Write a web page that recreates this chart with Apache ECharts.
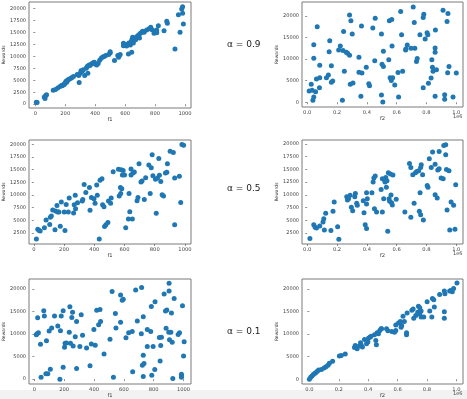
<!DOCTYPE html>
<html>
<head>
<meta charset="utf-8">
<script src="https://cdn.jsdelivr.net/npm/echarts@6/dist/echarts.min.js"></script>
<style>
html, body { margin: 0; padding: 0; background: #fff; }
#main { width: 467px; height: 399px; }
</style>
</head>
<body>
<div id="main"></div>
<script>
// alpha = 0.9, rewards vs f1
var f1Alpha09 = [
  [7,420],[12,350],[60,1500],[65,1200],[70,1800],[75,2000],
  [120,2900],[135,3100],[150,3400],[165,3700],[175,3900],[180,3850],[185,4000],[190,4100],[195,4200],
  [200,4500],[205,4800],[210,4600],[215,5000],[220,5100],[225,5200],[235,5400],[245,5600],[255,5800],
  [280,6200],[290,6000],[293,4530],[300,6500],[305,7000],[310,6800],[315,7000],[320,7200],[330,6000],
  [340,7500],[345,7800],[350,8000],[351,6480],[360,8200],[365,8100],[370,8300],[380,8500],[385,8600],
  [390,8700],[395,8800],[400,8400],[410,8200],[420,8500],[430,9200],[440,9600],[450,9900],[460,10000],
  [470,10200],[490,10400],[500,11000],[500,10700],
  [529,9130],[551,10170],[556,9830],[560,10100],[567,10380],
  [589,12750],[589,12260],[610,12500],[610,12200],[622,10520],[625,12800],[635,12400],[640,13000],
  [644,10870],[645,13500],[650,14000],[655,12800],[660,13800],[670,13500],[675,14000],[680,14200],
  [685,14300],[690,14500],[696,13870],[700,14800],[710,15000],[715,15200],[720,15300],[727,15050],
  [744,15540],[760,15800],[771,16100],[780,15600],[793,14840],[802,15260],[811,15540],[811,14980],
  [822,16440],[860,15400],[878,17350],[882,16930],
  [933,11570],[956,18750],[967,15050],[978,19930],[984,20420],[984,19020],[989,16790]
];

// alpha = 0.9, rewards vs f2 (x in units of 1e6)
var f2Alpha09 = [
  [0.013,2600],[0.027,4140],[0.033,2760],[0.038,460],[0.044,1230],[0.044,10200],[0.044,13300],
  [0.056,2450],[0.062,5360],[0.067,17500],[0.082,3370],[0.084,5670],[0.084,8580],[0.129,5670],
  [0.142,6280],[0.147,11700],[0.151,14250],[0.162,8430],[0.162,4600],[0.171,4900],[0.211,12100],
  [0.222,13000],[0.236,460],[0.240,11950],[0.244,16400],[0.249,7200],[0.262,11570],[0.271,11340],
  [0.284,20200],[0.284,10880],[0.289,4140],[0.293,18850],[0.302,15800],[0.307,4440],[0.347,10420],
  [0.347,6970],[0.360,1380],[0.367,6740],[0.364,17620],[0.396,8120],[0.413,4290],[0.418,3830],
  [0.440,17160],[0.453,9580],[0.456,19460],[0.498,15800],[0.498,1690],[0.502,8810],[0.507,80],
  [0.511,11800],[0.511,8280],[0.547,9810],[0.551,18850],[0.556,5670],[0.567,19160],[0.569,13030],
  [0.564,5060],[0.573,5670],[0.587,3980],[0.609,6900],[0.613,1230],[0.627,21000],[0.633,15630],
  [0.640,7200],[0.660,12100],[0.662,12340],[0.671,13260],[0.696,12490],[0.711,22070],[0.722,12490],
  [0.718,18470],[0.733,9430],[0.738,10110],[0.756,15630],[0.778,3370],[0.778,19620],[0.782,20380],
  [0.791,14640],[0.804,16090],[0.809,15630],[0.813,4370],[0.831,5590],[0.836,9810],[0.840,8120],
  [0.844,7200],[0.858,12570],[0.858,11570],[0.860,16700],[0.858,1380],[0.867,7510],[0.911,21300],
  [0.922,690],[0.922,1760],[0.938,18700],[0.944,20540],[0.942,6820],[0.951,8280],[0.978,1230],
  [1.000,6740]
];

// alpha = 0.5, rewards vs f1
var f1Alpha05 = [
  [17,1330],[26,3280],[35,3020],[42,2890],[70,3540],[81,5100],[105,4190],[109,5620],[116,5880],
  [125,7050],[140,3150],[144,6860],[153,7960],[158,6660],[166,6660],[175,3870],[182,8620],[201,6660],
  [206,3020],[214,8160],[228,6660],[234,9400],[263,6470],[267,8100],[274,9980],[276,7310],[289,8490],
  [320,8810],[324,9140],[333,12060],[344,10500],[368,11480],[372,6990],[381,9530],[398,9270],
  [405,8360],[416,12000],[420,9980],[433,1330],[438,12910],[451,13230],[455,8100],[464,7700],
  [468,3800],[477,4130],[490,4580],[494,8810],[508,8360],[512,9400],[525,14600],[560,15060],
  [565,9790],[573,11480],[575,10310],[578,14990],[582,11220],[586,13950],[591,14860],[600,13950],
  [608,3540],[626,5300],[630,10310],[635,6730],[643,15120],[643,13950],[652,5300],[656,14340],
  [665,14530],[683,8880],[689,9530],[696,16160],[709,12580],[716,12780],[731,9140],[740,13430],
  [761,15900],[770,10310],[777,15380],[783,17920],[788,13820],[805,13100],[810,6400],[818,13360],
  [831,13880],[827,17200],[840,12650],[849,10050],[858,9790],[871,14340],[880,14470],[884,16160],
  [902,18630],[923,18370],[932,13360],[932,4130],[963,13690],[972,8550],[980,19940],[991,19800]
];

// alpha = 0.5, rewards vs f2
var f2Alpha05 = [
  [0.018,1390],[0.044,4130],[0.053,3610],[0.062,3480],[0.084,3870],[0.106,4650],[0.111,5310],
  [0.115,3090],[0.124,6350],[0.159,2960],[0.173,6740],[0.181,8570],[0.204,3740],[0.212,1260],
  [0.265,9620],[0.270,8960],[0.277,9230],[0.288,9880],[0.296,7530],[0.305,6870],[0.319,9620],
  [0.323,10270],[0.332,8310],[0.336,7920],[0.376,8830],[0.381,6480],[0.389,4130],[0.398,3350],
  [0.398,10400],[0.398,8180],[0.403,9230],[0.434,10400],[0.442,12490],[0.447,13270],[0.456,13670],
  [0.451,7270],[0.465,6610],[0.496,11050],[0.504,13140],[0.504,6610],[0.513,9230],[0.518,12880],
  [0.522,12490],[0.527,13400],[0.531,11450],[0.535,12750],[0.540,2830],[0.544,14320],[0.549,9230],
  [0.553,8700],[0.558,14060],[0.562,9940],[0.566,8440],[0.571,7980],[0.575,13860],[0.597,9100],
  [0.655,6610],[0.686,16150],[0.695,5570],[0.695,15360],[0.708,13930],[0.717,8310],[0.726,14320],
  [0.735,14580],[0.748,14710],[0.752,6740],[0.757,10400],[0.761,6090],[0.761,15360],[0.765,15890],
  [0.774,13930],[0.779,5050],[0.805,11840],[0.810,11450],[0.819,17060],[0.832,15360],[0.841,18370],
  [0.858,15990],[0.858,10010],[0.872,9360],[0.876,14840],[0.885,15100],[0.885,18500],[0.898,13270],
  [0.912,13140],[0.916,19670],[0.929,19800],[0.929,17850],[0.934,14970],[0.938,7010],[0.951,14710],
  [0.956,3090],[0.965,8570],[0.982,7920],[0.991,3220],[0.996,11970]
];

// alpha = 0.1, rewards vs f1
var f1Alpha01 = [
  [13,9850],[18,10070],[22,13600],[27,10290],[41,7720],[45,440],[63,15150],[67,13970],[77,1180],
  [81,8530],[90,1180],[99,10660],[107,2210],[116,11320],[135,13970],[157,11760],[171,0],[175,10740],
  [180,13970],[193,15150],[193,2650],[202,7060],[206,7940],[215,8010],[238,16030],[234,10370],
  [242,7940],[251,13680],[256,14850],[260,7350],[274,9410],[283,2350],[283,12790],[305,7210],
  [314,14260],[323,9710],[350,6910],[373,2940],[382,7790],[399,11030],[408,7500],[418,15290],
  [431,12060],[440,15440],[444,12790],[467,5590],[507,8820],[521,19410],[530,440],[543,14560],
  [547,11320],[578,18680],[589,17510],[596,17730],[578,12600],[679,19780],[719,20290],[903,21250],
  [870,18900],[903,19560],[937,17870],[993,16260],[809,17140],[784,16120],[888,15310],[879,15090],
  [919,14650],[730,13850],[690,12890],[757,10990],[780,10550],[632,10260],[656,10550],[717,10040],
  [883,11280],[901,10400],[915,10400],[973,10260],[964,9890],[838,9230],[852,9300],[906,8720],
  [924,8200],[614,9160],[1004,8280],[757,7250],[796,7250],[847,7470],[730,5280],[1000,5130],
  [735,3440],[724,3080],[843,4030],[807,2120],[659,1610],[787,880],[730,590],[928,150],
  [986,1100],[986,730],[986,440]
];

// alpha = 0.1, rewards vs f2
var f2Alpha01 = [
  [0.000,0],[0.009,440],[0.018,730],[0.027,1030],[0.036,1250],[0.045,1460],[0.054,1760],[0.063,2050],
  [0.082,2120],[0.100,2490],[0.113,2780],[0.127,3080],[0.136,3520],[0.158,3950],[0.204,5130],
  [0.217,5270],[0.244,5570],[0.307,7030],[0.312,7470],[0.325,6740],[0.339,7330],[0.348,8060],
  [0.352,7620],[0.361,7100],[0.375,8790],[0.389,7840],[0.398,8210],[0.402,9080],[0.411,9300],
  [0.420,9520],[0.456,7620],[0.452,8570],[0.443,9820],[0.461,10260],[0.470,10040],[0.479,10770],
  [0.488,11140],[0.491,11140],[0.525,11140],[0.534,10700],[0.561,10550],[0.588,10770],[0.579,10400],
  [0.588,12010],[0.606,12450],[0.619,12750],[0.624,11500],[0.628,11870],[0.646,12750],[0.637,13920],
  [0.661,10260],[0.661,9820],[0.665,14650],[0.697,15240],[0.706,15530],[0.710,13480],[0.724,14070],
  [0.742,16120],[0.751,15820],[0.737,14800],[0.751,14430],[0.760,15090],[0.760,13770],[0.778,13770],
  [0.801,17140],[0.819,15090],[0.837,17870],[0.846,17580],[0.850,15970],[0.833,13770],[0.886,18750],
  [0.918,19490],[0.922,18900],[0.918,14940],[0.918,13480],[0.954,19490],[0.963,19630],[0.972,19340],
  [0.981,20070],[1.004,21250]
];

var f1Ticks = [0, 200, 400, 600, 800, 1000];
var f2Ticks = [0, 0.2, 0.4, 0.6, 0.8, 1.0];
var rewardTicks2500 = [0, 2500, 5000, 7500, 10000, 12500, 15000, 17500, 20000];
var rewardTicks5000 = [0, 5000, 10000, 15000, 20000];
var rewardTicksMid = [2500, 5000, 7500, 10000, 12500, 15000, 17500, 20000];
var alphaLabels = ['α = 0.9', 'α = 0.5', 'α = 0.1'];

var panels = [
  {data: f1Alpha09, xName: 'f1', xTicks: f1Ticks, yTicks: rewardTicks2500, xr: [-42, 1040], yr: [-800, 21400], left: 29, top: 2, width: 162, height: 106},
  {data: f2Alpha09, xName: 'f2', xTicks: f2Ticks, yTicks: rewardTicks5000, xr: [-0.035, 1.045], yr: [-1100, 23200], left: 302, top: 2, width: 161, height: 105},
  {data: f1Alpha05, xName: 'f1', xTicks: f1Ticks, yTicks: rewardTicksMid, xr: [-32, 1040], yr: [350, 20850], left: 29, top: 140, width: 162, height: 104},
  {data: f2Alpha05, xName: 'f2', xTicks: f2Ticks, yTicks: rewardTicksMid, xr: [-0.035, 1.045], yr: [330, 20750], left: 302, top: 140, width: 161, height: 104},
  {data: f1Alpha01, xName: 'f1', xTicks: f1Ticks, yTicks: rewardTicks5000, xr: [-36, 1050], yr: [-1080, 22200], left: 29, top: 279, width: 162, height: 105},
  {data: f2Alpha01, xName: 'f2', xTicks: f2Ticks, yTicks: rewardTicks5000, xr: [-0.05, 1.045], yr: [-1060, 22160], left: 302, top: 279, width: 161, height: 105}
];

var font = 'DejaVu Sans';
var tickColor = '#444';
var frameColor = '#7a7a7a';

var grid = [], xAxis = [], yAxis = [], series = [], graphic = [];

// jupyter output strip at the bottom
graphic.push({type: 'rect', left: 0, top: 390, z: -10, shape: {width: 467, height: 9}, style: {fill: '#f2f2f2'}});

panels.forEach(function (p, i) {
  var isF2 = p.xName === 'f2';
  grid.push({
    left: p.left, top: p.top, width: p.width, height: p.height,
    show: true, borderColor: frameColor, borderWidth: 1, backgroundColor: '#fff'
  });
  xAxis.push({
    gridIndex: i, type: 'value', min: p.xr[0], max: p.xr[1],
    name: p.xName, nameLocation: 'middle', nameGap: 9,
    nameTextStyle: {fontSize: 5.2, color: '#333', fontFamily: font},
    axisLine: {show: false},
    splitLine: {show: false},
    axisTick: {show: true, length: 2, customValues: p.xTicks, lineStyle: {color: tickColor, width: 0.6}},
    axisLabel: {
      customValues: p.xTicks, fontSize: 5.2, color: tickColor, fontFamily: font, margin: 3,
      formatter: function (v) { return isF2 ? v.toFixed(1) : String(v); }
    }
  });
  yAxis.push({
    gridIndex: i, type: 'value', min: p.yr[0], max: p.yr[1],
    name: 'Rewards', nameLocation: 'middle', nameGap: 23,
    nameTextStyle: {fontSize: 4.5, color: '#333', fontFamily: font},
    axisLine: {show: false},
    splitLine: {show: false},
    axisTick: {show: true, length: 2, customValues: p.yTicks, lineStyle: {color: tickColor, width: 0.6}},
    axisLabel: {
      customValues: p.yTicks, fontSize: 5, color: tickColor, fontFamily: font, margin: 3,
      formatter: function (v) { return String(v); }
    }
  });
  series.push({
    type: 'scatter', xAxisIndex: i, yAxisIndex: i, data: p.data,
    symbolSize: 5, itemStyle: {color: '#1f77b4', opacity: 1}
  });
  if (isF2) {
    graphic.push({
      type: 'text', left: 453, top: p.top + p.height + 7,
      style: {text: '1e6', fontSize: 5, fill: tickColor, fontFamily: font}
    });
  }
});

var alphaY = [46, 190, 333];
alphaLabels.forEach(function (t, i) {
  graphic.push({
    type: 'text', left: 227, top: alphaY[i] - 6,
    style: {text: t, fontSize: 9, fill: '#222', fontFamily: font}
  });
});

var myChart = echarts.init(document.getElementById('main'), null, {renderer: 'canvas'});
myChart.setOption({
  animation: false,
  backgroundColor: '#fff',
  grid: grid,
  xAxis: xAxis,
  yAxis: yAxis,
  series: series,
  graphic: graphic
});
</script>
</body>
</html>
